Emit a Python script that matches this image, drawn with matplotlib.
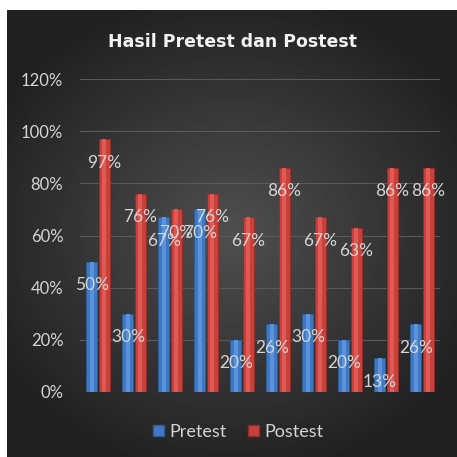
import numpy as np
import matplotlib
matplotlib.use("Agg")
import matplotlib.pyplot as plt
from matplotlib.patches import Patch

plt.rcParams['font.family'] = ['Lato', 'DejaVu Sans']

# data
categories = [str(i) for i in range(1, 11)]
pretest = [50, 30, 67, 70, 20, 26, 30, 20, 13, 26]
postest = [97, 76, 70, 76, 67, 86, 67, 63, 86, 86]
yticks = [0, 20, 40, 60, 80, 100, 120]

fig = plt.figure(figsize=(4.57, 4.57), dpi=100)
fig.patch.set_facecolor('white')

# dark radial gradient background
bg = fig.add_axes([7/457, 0, 450/457, 447/457])
yy, xx = np.mgrid[-1:1:300j, -1:1:300j]
r = np.sqrt(xx**2 + (yy * 1.1)**2)
bg.imshow(0.31 - 0.15 * np.clip(r, 0, 1.2), cmap='gray', vmin=0, vmax=1,
          extent=[0, 1, 0, 1], aspect='auto', interpolation='bilinear')
bg.axis('off')

ax = fig.add_axes([80/457, 65/457, 360/457, 313/457])
ax.set_facecolor('none')
x = np.arange(len(categories))
w = 0.31
off = 0.17
ax.bar(x - off, pretest, w, color='#3f78c4', edgecolor='#2d5a96', linewidth=0.6, zorder=3)
ax.bar(x + off, postest, w, color='#c9403b', edgecolor='#952c28', linewidth=0.6, zorder=3)
# lighter centre stripe for a rounded look
ax.bar(x - off, pretest, w * 0.35, color='#5a93dc', linewidth=0, zorder=3)
ax.bar(x + off, postest, w * 0.35, color='#e05a55', linewidth=0, zorder=3)

for xs, vals in ((x - off, pretest), (x + off, postest)):
    for xi, v in zip(xs, vals):
        ax.annotate(f'{v}%', (xi, v), xytext=(0, -17), textcoords='offset points',
                    ha='center', va='center', color='#d4d4d4', fontsize=12.5, zorder=4)

ax.set_xlim(-0.5, len(categories) - 0.5)
ax.set_ylim(0, 120)
ax.set_yticks(yticks)
ax.set_yticklabels([f'{t}%' for t in yticks], color='#d4d4d4', fontsize=12)
ax.set_xticks([])
ax.tick_params(axis='y', length=0, pad=12)
ax.grid(axis='y', color='#5a5a5a', linewidth=0.8, zorder=0)
for s in ax.spines.values():
    s.set_visible(False)

fig.text(233/457, 1 - 42/457, 'Hasil Pretest dan Postest', ha='center', va='center',
         color='#f2f2f2', fontsize=12.5, fontweight='bold', family='DejaVu Sans')

handles = [Patch(facecolor='#3f78c4', edgecolor='#2d5a96'),
           Patch(facecolor='#c9403b', edgecolor='#952c28')]
leg = fig.legend(handles, ['Pretest', 'Postest'], loc='center', ncol=2,
                 bbox_to_anchor=(238/457, 1 - 432/457), frameon=False,
                 fontsize=13, handlelength=0.6, handleheight=0.6,
                 handletextpad=0.3, columnspacing=1.2)
for t in leg.get_texts():
    t.set_color('#d4d4d4')

fig.savefig('out.png', dpi=100)
